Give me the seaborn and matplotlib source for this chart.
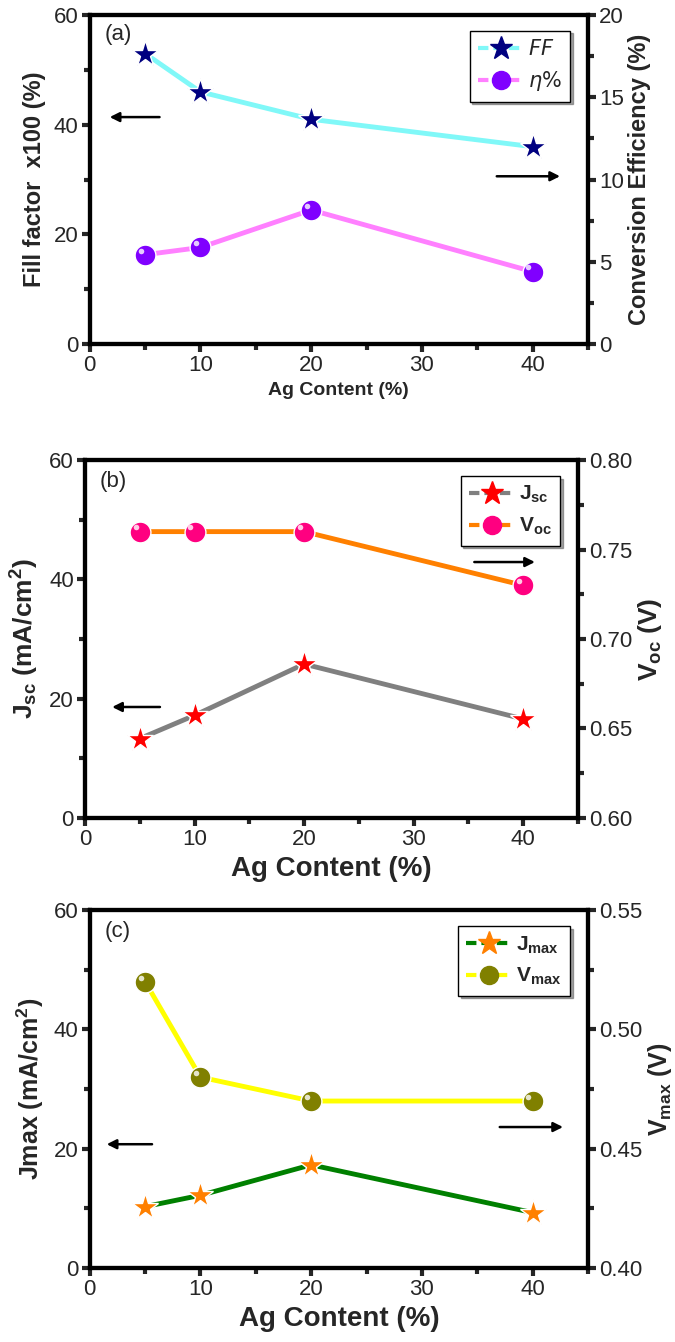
import numpy as np
import pandas as pd
import matplotlib
matplotlib.use("Agg")
import matplotlib.pyplot as plt
from matplotlib.lines import Line2D
from matplotlib.ticker import MultipleLocator
import seaborn as sns

sns.set_style("white")
plt.rcParams['font.family'] = ['Liberation Sans', 'DejaVu Sans']
plt.rcParams['mathtext.default'] = 'regular'

ag = [5, 10, 20, 40]
ff = [53, 46, 41, 36]
eta = [5.43, 5.87, 8.15, 4.4]
jsc = [13.3, 17.2, 25.8, 16.6]
voc = [0.76, 0.76, 0.76, 0.73]
jmax = [10.3, 12.2, 17.3, 9.3]
vmax = [0.52, 0.48, 0.47, 0.47]

xticks = [0, 10, 20, 30, 40]

fig = plt.figure(figsize=(6.75, 13.42), dpi=100)

panels = [
    dict(rect=[0.133, 0.7437, 0.738, 0.245], tag='(a)', yl=ff, yr=eta,
         rlim=(0, 20), rstep=5, rminor=2.5, rfmt='{:.0f}',
         lcol='#80F8F8', lmk='#000080', rcol='#FF80FF', rmk='#8000FF',
         llab='$\\it{FF}$', rlab='$\\it{\\eta\\%}$',
         ylabel='Fill factor  x100 (%)', ylabel_r='Conversion Efficiency (%)',
         xlfs=14, ylfs=17, arrL=(0.14, 0.04, 0.69), arrR=(0.817, 0.944, 0.51)),
    dict(rect=[0.126, 0.3905, 0.730, 0.2667], tag='(b)', yl=jsc, yr=voc,
         rlim=(0.6, 0.8), rstep=0.05, rminor=0.025, rfmt='{:.2f}',
         lcol='#808080', lmk='#FF0000', rcol='#FF8000', rmk='#FF0080',
         llab='J$_{sc}$', rlab='V$_{oc}$',
         ylabel='J$_{sc}$ (mA/cm$^{2}$)', ylabel_r='V$_{oc}$ (V)',
         xlfs=20, ylfs=19, arrL=(0.152, 0.055, 0.31), arrR=(0.79, 0.913, 0.715)),
    dict(rect=[0.133, 0.0551, 0.738, 0.2667], tag='(c)', yl=jmax, yr=vmax,
         rlim=(0.4, 0.55), rstep=0.05, rminor=0.025, rfmt='{:.2f}',
         lcol='#008000', lmk='#FF8000', rcol='#FFFF00', rmk='#808000',
         llab='J$_{max}$', rlab='V$_{max}$',
         ylabel='Jmax (mA/cm$^{2}$)', ylabel_r='V$_{max}$ (V)',
         xlfs=20, ylfs=18, arrL=(0.125, 0.034, 0.346), arrR=(0.823, 0.95, 0.394)),
]

for p in panels:
    ax = fig.add_axes(p['rect'])
    ax2 = ax.twinx()
    dfl = pd.DataFrame({'x': ag, 'y': p['yl']})
    dfr = pd.DataFrame({'x': ag, 'y': p['yr']})
    sns.lineplot(data=dfl, x='x', y='y', ax=ax, color=p['lcol'], lw=3.5, zorder=2)
    sns.lineplot(data=dfr, x='x', y='y', ax=ax2, color=p['rcol'], lw=3.5, zorder=2)
    ax.plot(ag, p['yl'], ls='none', marker='*', ms=20, mfc=p['lmk'], mec='white', mew=1.0, zorder=3)
    ax2.plot(ag, p['yr'], ls='none', marker='o', ms=15, mfc=p['rmk'], mec='white', mew=1.0, zorder=3)
    ax2.plot(ag, p['yr'], ls='none', marker='o', ms=4, mfc='white', mec='none', alpha=0.8, zorder=4,
             transform=ax2.transData + matplotlib.transforms.ScaledTranslation(-3/72, 3/72, fig.dpi_scale_trans))

    ax.set_xlim(0, 45)
    ax.set_ylim(0, 60)
    ax2.set_ylim(*p['rlim'])
    ax.set_xticks(xticks)
    ax.xaxis.set_minor_locator(MultipleLocator(5))
    ax.yaxis.set_major_locator(MultipleLocator(20))
    ax.yaxis.set_minor_locator(MultipleLocator(10))
    ax2.yaxis.set_major_locator(MultipleLocator(p['rstep']))
    ax2.yaxis.set_minor_locator(MultipleLocator(p['rminor']))
    ax2.yaxis.set_major_formatter(matplotlib.ticker.FuncFormatter(lambda v, pos, f=p['rfmt']: f.format(v)))

    for a in (ax, ax2):
        for s in a.spines.values():
            s.set_linewidth(3)
            s.set_color('black')
        a.tick_params(which='major', direction='out', length=6, width=3, labelsize=16, pad=2)
        a.tick_params(which='minor', direction='out', length=4, width=3)
    ax.tick_params(axis='both', which='both', left=True, bottom=True, right=False, top=False)
    ax2.tick_params(axis='y', which='both', right=True, left=False)

    ax.set_xlabel('Ag Content (%)', fontsize=p['xlfs'], fontweight='bold', labelpad=4)
    ax.set_ylabel(p['ylabel'], fontsize=p['ylfs'], fontweight='bold', labelpad=6)
    ax2.set_ylabel(p['ylabel_r'], fontsize=p['ylfs'], fontweight='bold', labelpad=3)

    ax.text(0.03, 0.94, p['tag'], transform=ax.transAxes, fontsize=16, va='center', ha='left')

    for key in ('arrL', 'arrR'):
        x0, x1, yy = p[key]
        ax.annotate('', xy=(x1, yy), xytext=(x0, yy), xycoords='axes fraction',
                    arrowprops=dict(arrowstyle='-|>', color='black', lw=1.8, mutation_scale=14,
                                    shrinkA=0, shrinkB=0))

    handles = [
        Line2D([], [], color=p['lcol'], lw=3, ls=(0, (2.5, 1.2)), marker='*', ms=17, mfc=p['lmk'], mec=p['lmk']),
        Line2D([], [], color=p['rcol'], lw=3, ls=(0, (2.5, 1.2)), marker='o', ms=13, mfc=p['rmk'], mec=p['rmk']),
    ]
    leg = ax2.legend(handles, [p['llab'], p['rlab']], loc='upper right', bbox_to_anchor=(0.985, 0.985),
                     frameon=True, fancybox=False, shadow=True, edgecolor='black', handlelength=2.2,
                     handletextpad=0.2, borderpad=0.4, labelspacing=0.5,
                     prop=dict(size=15, weight='bold'))
    leg.get_frame().set_linewidth(1.0)

fig.savefig('out.png', dpi=100)
